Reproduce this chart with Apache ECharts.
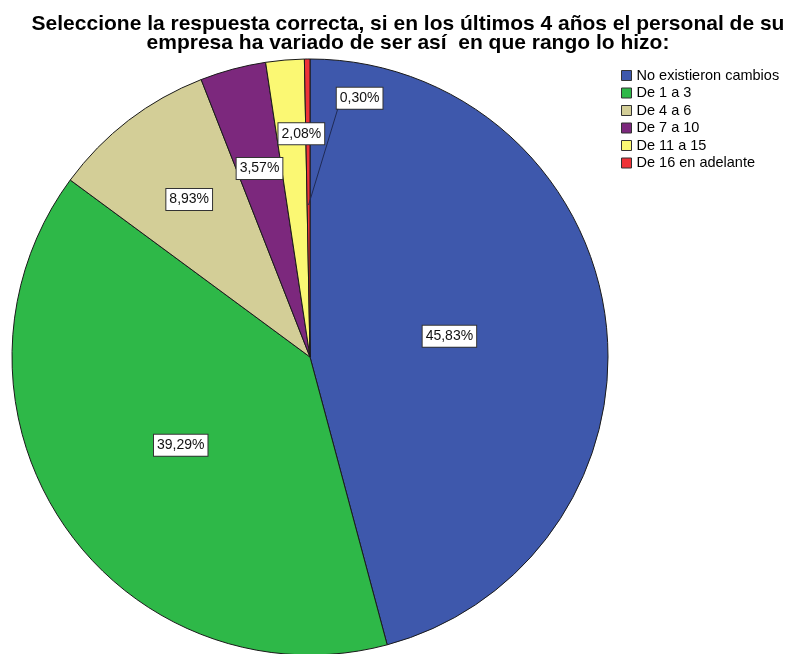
<!DOCTYPE html>
<html>
<head>
<meta charset="utf-8">
<script src="https://cdn.jsdelivr.net/npm/echarts@6/dist/echarts.min.js"></script>
<style>
  html, body { margin: 0; padding: 0; background: #fff; }
  #chart { width: 793px; height: 654px; }
</style>
</head>
<body>
<div id="chart"></div>
<script>
// Survey answers: change in staff size over the last 4 years (percent of companies)
const categories = [
  'No existieron cambios',
  'De 1 a 3',
  'De 4 a 6',
  'De 7 a 10',
  'De 11 a 15',
  'De 16 en adelante'
];
const percentages = [45.83, 39.29, 8.93, 3.57, 2.08, 0.30];
const titleLines = [
  'Seleccione la respuesta correcta, si en los últimos 4 años el personal de su',
  'empresa ha variado de ser así  en que rango lo hizo:'
];

const colors = ['#3E58AC', '#2EB848', '#D3CE97', '#7C287D', '#FBF873', '#EF3338'];
const FONT = 'Liberation Sans, Arial, sans-serif';
const LABEL_SIZE = 14;
const LABEL_PAD = [3, 3, 2, 3];
const LABEL_LINE_H = 16;

// Pie geometry
const CX = 310, CY = 357, R = 298;
// Where each value label sits: fraction of the radius, plus an angular nudge (deg)
const labelRadius = [0.473, 0.525, 0.666, 0.655, 0.75, 0.884];
const labelNudge = [-1, 0, 0, 0, 2.6, 11.4];
// The smallest slice gets a leader line from inside its wedge to its label
const leaderIndex = 5;

const total = percentages.reduce((a, b) => a + b, 0);
const midAngles = [];
let acc = 0;
percentages.forEach(v => {
  midAngles.push((acc + v / 2) / total * 360);
  acc += v;
});
function polar(r, deg) {
  const a = deg * Math.PI / 180;
  return [CX + r * Math.sin(a), CY - r * Math.cos(a)];
}
const fmt = v => v.toFixed(2).replace('.', ',') + '%';

function labelCenter(i) {
  return polar(R * labelRadius[i], midAngles[i] + labelNudge[i]);
}

// Leader line: from the middle of the wedge to the lower-left corner of its label box
const measureCtx = document.createElement('canvas').getContext('2d');
measureCtx.font = LABEL_SIZE + 'px ' + FONT;
const leaderLabelW = measureCtx.measureText(fmt(percentages[leaderIndex])).width + LABEL_PAD[1] + LABEL_PAD[3];
const leaderLabelH = LABEL_LINE_H + LABEL_PAD[0] + LABEL_PAD[2];
const leaderStart = polar(R * 0.51, midAngles[leaderIndex]);
const leaderLabel = labelCenter(leaderIndex);
const leaderEnd = [leaderLabel[0] - leaderLabelW / 2 + 1, leaderLabel[1] + leaderLabelH / 2];

const chart = echarts.init(document.getElementById('chart'), null, { renderer: 'canvas' });

chart.setOption({
  animation: false,
  color: colors,
  legend: {
    orient: 'vertical',
    left: 621, top: 68,
    icon: 'rect',
    itemWidth: 10, itemHeight: 10,
    itemGap: 2.5,
    padding: 0,
    data: categories,
    itemStyle: { borderColor: '#333', borderWidth: 1 },
    textStyle: { fontFamily: FONT, fontSize: 14.5, color: '#000', lineHeight: 14 }
  },
  graphic: [
    {
      // Two-line chart title, centred over the plot
      type: 'text',
      silent: true,
      x: 408,
      y: 15,
      style: {
        text: titleLines.join('\n'),
        align: 'center',
        verticalAlign: 'top',
        fontFamily: FONT,
        fontWeight: 'bold',
        fontSize: 21,
        lineHeight: 19,
        fill: '#000'
      }
    },
    {
      type: 'polyline',
      silent: true,
      z: 10,
      shape: { points: [leaderStart, leaderEnd] },
      style: { stroke: '#1f2a55', lineWidth: 1, fill: null }
    }
  ],
  series: [{
    type: 'pie',
    center: [CX, CY],
    radius: R,
    startAngle: 90,
    clockwise: true,
    avoidLabelOverlap: false,
    itemStyle: { borderColor: '#1a1a1a', borderWidth: 1 },
    label: {
      show: true,
      position: 'inside',
      fontFamily: FONT,
      fontSize: LABEL_SIZE,
      lineHeight: LABEL_LINE_H,
      color: '#111',
      backgroundColor: '#fff',
      borderColor: '#333',
      borderWidth: 1,
      padding: LABEL_PAD,
      formatter: p => fmt(p.value)
    },
    labelLine: { show: false },
    emphasis: { disabled: true },
    data: categories.map((name, i) => ({ name, value: percentages[i] })),
    labelLayout: p => {
      const [x, y] = labelCenter(p.dataIndex);
      return { x, y, align: 'center', verticalAlign: 'middle' };
    }
  }]
});
</script>
</body>
</html>
